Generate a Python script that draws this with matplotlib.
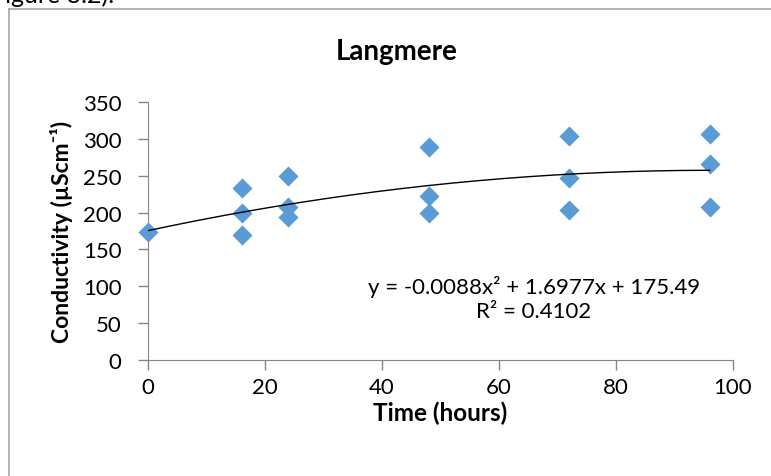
import numpy as np
import matplotlib
matplotlib.use("Agg")
import matplotlib.pyplot as plt
from matplotlib.lines import Line2D

# ── data ───────────────────────────────────────────────────────────────────
time_h = [0, 16, 16, 16, 24, 24, 24, 48, 48, 48, 72, 72, 72, 96, 96, 96]
conductivity = [174, 234, 200, 169, 250, 207, 194, 289, 223, 199,
                304, 247, 203, 306, 266, 207]

# Excel polynomial (order 2) trendline as printed on the chart
coef = [-0.0088, 1.6977, 175.49]
r_squared = 0.4102

x_ticks = [0, 20, 40, 60, 80, 100]
y_ticks = [0, 50, 100, 150, 200, 250, 300, 350]

plt.rcParams["font.family"] = ["Lato", "DejaVu Sans"]

W, H = 771, 477
fig = plt.figure(figsize=(W / 100, H / 100), dpi=100)
ax = fig.add_axes([148 / W, 1 - 361 / H, (733 - 148) / W, (361 - 103) / H])

ax.scatter(time_h, conductivity, marker="D", s=105, color="#5B9BD5",
           linewidths=0, zorder=3, clip_on=False)

xf = np.linspace(min(time_h), max(time_h), 200)
ax.plot(xf, np.polyval(coef, xf), color="black", lw=1.0, zorder=4)

ax.set_xlim(0, 100)
ax.set_ylim(0, 350)
ax.set_xticks(x_ticks)
ax.set_yticks(y_ticks)
ax.tick_params(axis="both", labelsize=16, length=7, width=1, color="#868686",
               direction="out")
ax.tick_params(axis="x", pad=5)
ax.tick_params(axis="y", pad=12)
for side in ("top", "right"):
    ax.spines[side].set_visible(False)
for side in ("left", "bottom"):
    ax.spines[side].set_color("#868686")

fig.text(397 / W, 1 - 52 / H, "Langmere", fontsize=20, fontweight="bold",
         ha="center", va="center")
ax.set_xlabel("Time (hours)", fontsize=17.5, fontweight="bold", labelpad=3)
ax.set_ylabel("Conductivity (µScm⁻¹)", fontsize=16.5,
              fontweight="bold", labelpad=7)

eq = (f"y = {coef[0]}x² + {coef[1]}x + {coef[2]}\n"
      f"R² = {r_squared}")
ax.text((534 - 148) / (733 - 148), (361 - 299) / (361 - 103), eq,
        transform=ax.transAxes, ha="center", va="center",
        fontsize=16, linespacing=1.2)

# outer chart-area frame (only top/left visible in the crop) and caption tail
fig.add_artist(Line2D([9 / W, 9 / W], [0, 1 - 10 / H],
                      color="#A6A6A6", lw=1.2))
fig.add_artist(Line2D([9 / W, 1], [1 - 10 / H, 1 - 10 / H],
                      color="#A6A6A6", lw=1.2))
fig.text(-0.012, 1 + 0.035, "Figure 3.2).", fontsize=18, va="top", ha="left")

fig.savefig("out.png", dpi=100)
